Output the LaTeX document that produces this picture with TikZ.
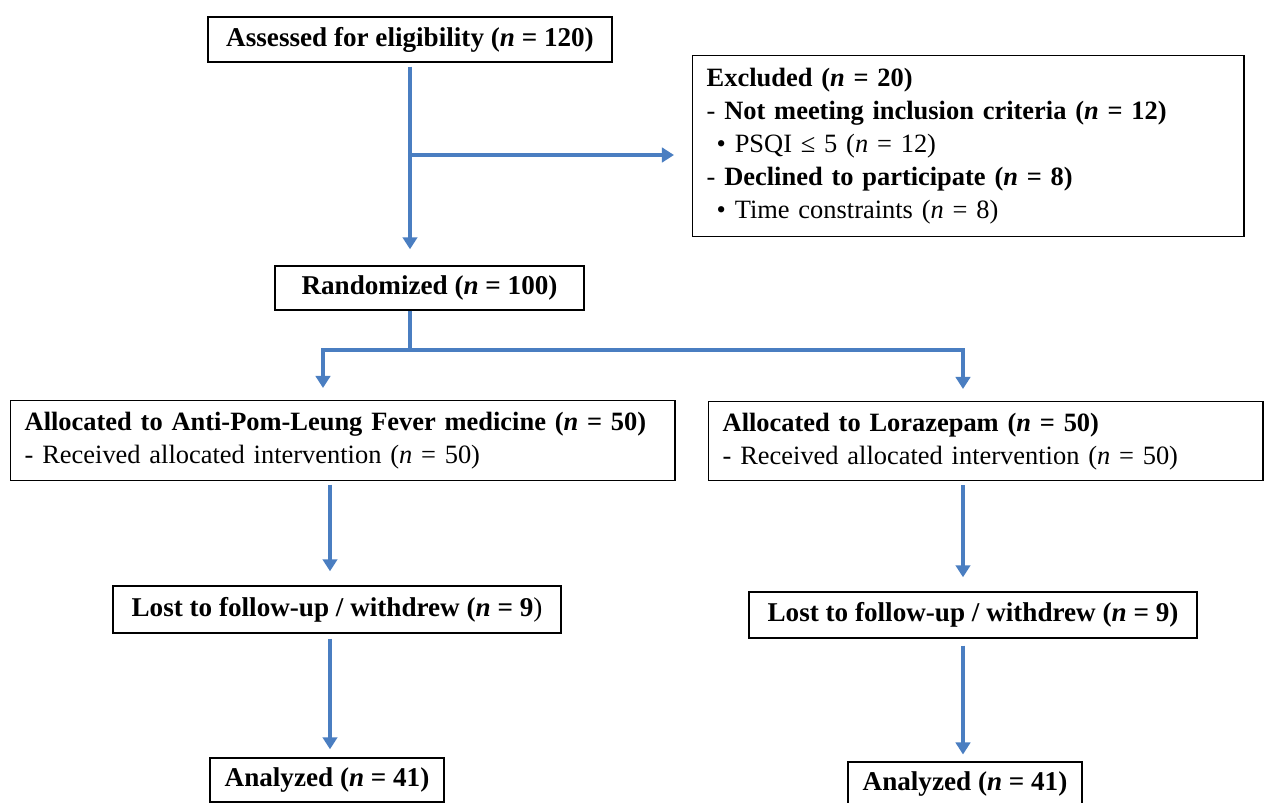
\documentclass[tikz,border=0pt]{standalone}
\usepackage{fontspec}
\setmainfont{Liberation Serif}
\usetikzlibrary{arrows.meta}
\definecolor{flowblue}{RGB}{74,126,193}

\begin{document}
\begin{tikzpicture}[x=0.025cm, y=-0.025cm,
  box/.style={draw=black, line width=1pt, inner xsep=0.35cm, inner ysep=0pt,
    font=\fontsize{19.3}{23.5}\selectfont},
  listbox/.style={box, anchor=north west, align=left,
    font=\fontsize{18.8}{23.5}\selectfont},
  arr/.style={draw=flowblue, line width=2.7pt, -{Triangle[width=0.36cm, length=0.3cm]}},
  ln/.style={draw=flowblue, line width=2.7pt}]
  \useasboundingbox (0,0) rectangle (1271,803);

  % boxes
  \node[box, minimum width=10.1cm, minimum height=1.125cm] (assess) at (410,39.5)
    {\textbf{Assessed for eligibility (\textit{n} = 120)}};
  \node[listbox, minimum width=13.775cm, minimum height=4.525cm,
    text width=13.075cm] (excl) at (692,55)
    {\textbf{Excluded (\textit{n} = 20)}\\
     - \textbf{Not meeting inclusion criteria (\textit{n} = 12)}\\
     \hspace*{0.25cm}• PSQI ≤ 5 (\textit{n} = 12)\\
     - \textbf{Declined to participate (\textit{n} = 8)}\\
     \hspace*{0.25cm}• Time constraints (\textit{n} = 8)};
  \node[box, minimum width=7.725cm, minimum height=1.1cm] (rand) at (429.5,288)
    {\textbf{Randomized (\textit{n} = 100)}};
  \node[listbox, minimum width=16.6cm, minimum height=2cm,
    text width=15.9cm] (allocL) at (10,400)
    {\mbox{\textbf{Allocated to Anti-Pom-Leung Fever medicine (\textit{n} = 50)}}\\
     - Received allocated intervention (\textit{n} = 50)};
  \node[listbox, minimum width=13.85cm, minimum height=1.975cm,
    text width=13.15cm] (allocR) at (708,401)
    {\textbf{Allocated to Lorazepam (\textit{n} = 50)}\\
     - Received allocated intervention (\textit{n} = 50)};
  \node[box, minimum width=11.2cm, minimum height=1.175cm] (lostL) at (337,609.5)
    {\textbf{Lost to follow-up / withdrew (\textit{n} = 9}\textmd{)}};
  \node[box, minimum width=11.2cm, minimum height=1.15cm] (lostR) at (973,615)
    {\textbf{Lost to follow-up / withdrew (\textit{n} = 9)}};
  \node[box, minimum width=5.85cm, minimum height=1.1cm] (anaL) at (327,780)
    {\textbf{Analyzed (\textit{n} = 41)}};
  \node[box, minimum width=5.85cm, minimum height=1.1cm] (anaR) at (965,784)
    {\textbf{Analyzed (\textit{n} = 41)}};

  % connectors
  \coordinate (split) at (410,155);
  \coordinate (bl) at (323,350);
  \coordinate (br) at (963,350);
  \coordinate (cl) at (330,0);
  \draw[arr, shorten <=0.1cm, shorten >=0.4cm] (split |- assess.south) -- (split |- rand.north);
  \draw[arr, shorten >=0.45cm] (split) -- (split -| excl.west);
  \draw[ln] (split |- rand.south) -- (split |- bl);
  \draw[arr, {Triangle[width=0.36cm, length=0.3cm]}-{Triangle[width=0.36cm, length=0.3cm]},
    shorten <=0.3cm, shorten >=0.3cm, line join=miter]
    (bl |- allocL.north) -- (bl) -- (br) -- (br |- allocR.north);
  \draw[arr, shorten <=0.08cm, shorten >=0.35cm] (cl |- allocL.south) -- (cl |- lostL.north);
  \draw[arr, shorten <=0.12cm, shorten >=0.2cm] (cl |- lostL.south) -- (cl |- anaL.north);
  \draw[arr, shorten <=0.1cm, shorten >=0.35cm] (br |- allocR.south) -- (br |- lostR.north);
  \draw[arr, shorten <=0.17cm, shorten >=0.17cm] (br |- lostR.south) -- (br |- anaR.north);
\end{tikzpicture}
\end{document}
